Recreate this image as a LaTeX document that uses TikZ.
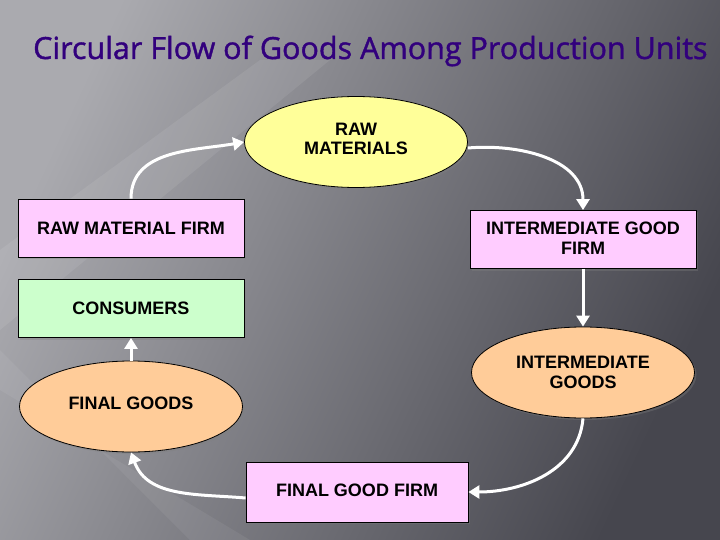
\documentclass[tikz,border=0pt]{standalone}
\usepackage{fontspec}
\setmainfont{Liberation Sans}
\newfontfamily\titlefont[FakeBold=1.3]{Open Sans}
\usetikzlibrary{shapes.geometric,arrows.meta,shadows,fadings}
\definecolor{titlec}{RGB}{50,0,125}
\definecolor{bgL}{RGB}{170,170,175}
\definecolor{bgM}{RGB}{100,100,106}
\definecolor{bgD}{RGB}{70,70,78}
\definecolor{yel}{RGB}{255,255,153}
\definecolor{pnk}{RGB}{255,204,255}
\definecolor{grn}{RGB}{204,255,204}
\definecolor{org}{RGB}{255,204,153}
\tikzset{
  base/.style={draw=black, line width=0.8pt, font=\bfseries\fontsize{18}{21}\selectfont, align=center, inner sep=0pt,
    drop shadow={shadow xshift=2pt, shadow yshift=-2pt, opacity=0.35}},
  ellnode/.style={base, ellipse, minimum width=223pt, minimum height=91pt},
  boxnode/.style={base, rectangle, minimum width=226pt, minimum height=58pt},
  flow/.style={draw=white, line width=3pt, -{Triangle[width=13pt,length=11pt]}}
}
\begin{document}
\begin{tikzpicture}[x=1pt,y=-1pt]
\useasboundingbox (0,0) rectangle (720,540);
% background
\shade[left color=bgL, middle color=bgM, right color=bgD, shading angle=65] (0,0) rectangle (720,540);
\fill[white, opacity=0.08] (0,330) -- (0,250) -- (260,60) -- (330,60) -- cycle;
\fill[white, opacity=0.06] (0,350) -- (0,390) -- (250,540) -- (190,540) -- cycle;
% title
\node[font=\titlefont\fontsize{30.5}{34}\selectfont, text=titlec, anchor=base west, inner sep=0pt] (title) at (33,59) {Circular Flow of Goods Among Production Units};
% nodes
\node[ellnode, fill=yel] (rm) at (356,142) {\raisebox{6pt}{\shortstack{RAW\\[4pt]MATERIALS}}};
\node[boxnode, fill=pnk] (rmf) at (131,228) {RAW MATERIAL FIRM};
\node[boxnode, fill=pnk] (igf) at (583,239.5) {\raisebox{3pt}{\shortstack{INTERMEDIATE GOOD\\[5pt]FIRM}}};
\node[boxnode, fill=grn] (con) at (131,308.5) {CONSUMERS};
\node[ellnode, fill=org] (ig) at (583,372.5) {\shortstack{INTERMEDIATE\\[5pt]GOODS}};
\node[ellnode, fill=org] (fg) at (131,406.5) {\raisebox{6pt}{FINAL GOODS}};
\node[boxnode, fill=pnk, minimum width=222pt, minimum height=60pt] (fgf) at (357,492) {\raisebox{4pt}{FINAL GOOD FIRM}};
% connectors
\draw[flow] (rmf.north) to[out=90,in=190] (rm.west);
\draw[flow] ([yshift=-6pt]rm.east) to[out=5,in=90] (igf.north);
\draw[flow] (igf.south) -- (ig.north);
\draw[flow] (ig.south) to[out=-95,in=0] (fgf.east);
\draw[flow] ([yshift=-6pt]fgf.west) to[out=175,in=-70] (fg.south);
\draw[flow] (fg.north) -- (con.south);
\end{tikzpicture}
\end{document}
